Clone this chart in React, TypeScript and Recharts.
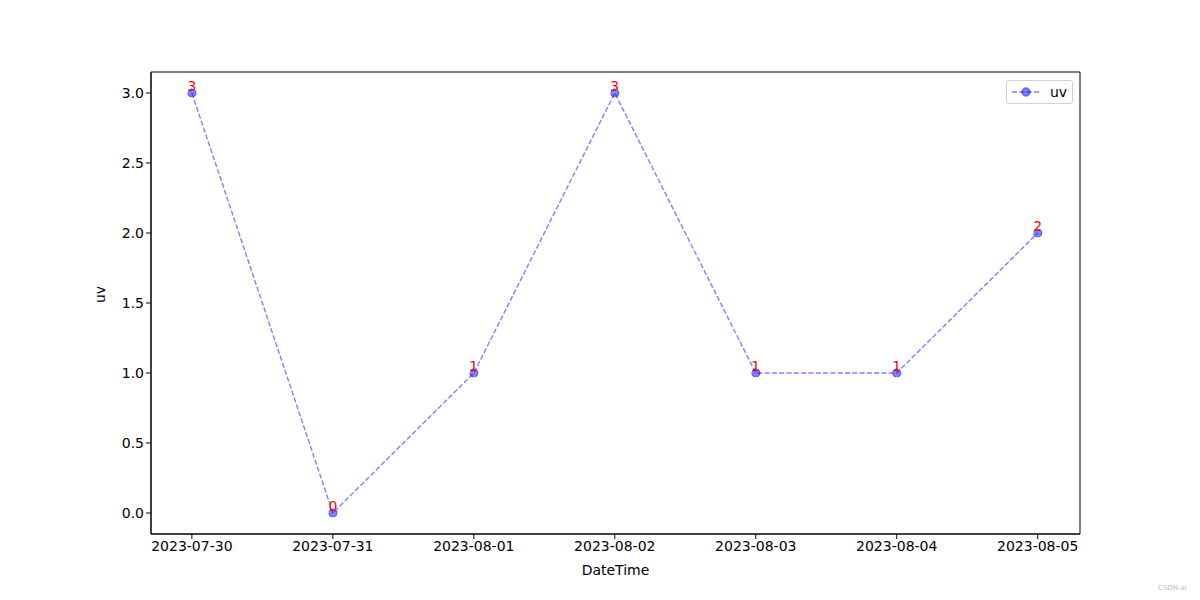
import React from 'react';
import { LineChart, Line, XAxis, YAxis, Label, ReferenceArea } from 'recharts';

const dates = ['2023-07-30', '2023-07-31', '2023-08-01', '2023-08-02', '2023-08-03', '2023-08-04', '2023-08-05'];
const uvValues = [3, 0, 1, 3, 1, 1, 2];
const yTicks = [0, 0.5, 1, 1.5, 2, 2.5, 3];
const xTicks = [0, 1, 2, 3, 4, 5, 6];

const data = dates.map((d, i) => ({ idx: i, date: d, uv: uvValues[i] }));

const FONT = 'DejaVu Sans, sans-serif';
const LINE_COLOR = 'rgba(0,0,255,0.5)';
const X_DOMAIN: [number, number] = [-0.29, 6.3];
const Y_DOMAIN: [number, number] = [-0.15, 3.15];

const PointLabel = (props: any) => {
  const { x, y, value } = props;
  return (
    <text x={x} y={y - 2.5} textAnchor="middle" fill="red" fontSize={14} fontFamily={FONT}>
      {value}
    </text>
  );
};

const LegendBox = () => (
  <div
    style={{
      position: 'absolute',
      left: 1006,
      top: 80,
      border: '1px solid #d0d0d0',
      borderRadius: 3,
      background: 'white',
      width: 67,
      height: 24,
      boxSizing: 'border-box',
      display: 'flex',
      alignItems: 'center',
      fontFamily: FONT,
      fontSize: 14,
    }}
  >
    <svg width={40} height={20}>
      <line x1={5} y1={10} x2={33} y2={10} stroke={LINE_COLOR} strokeWidth={1.39} strokeDasharray="5.1 2.2" />
      <circle cx={19} cy={10} r={4.2} fill={LINE_COLOR} stroke={LINE_COLOR} />
    </svg>
    <span style={{ marginLeft: 3 }}>uv</span>
  </div>
);

export default function App() {
  return (
    <div style={{ position: 'absolute', left: 0, top: 0, width: 1200, height: 600, background: 'white' }}>
      <LineChart
        width={1200}
        height={600}
        data={data}
        margin={{ top: 72, right: 120, bottom: 0, left: 0 }}
      >
        <XAxis
          dataKey="idx"
          type="number"
          domain={X_DOMAIN}
          ticks={xTicks}
          tickFormatter={(v: number) => dates[v]}
          interval={0}
          height={66}
          axisLine={{ stroke: '#000' }}
          tickLine={{ stroke: '#000' }}
          tickSize={5}
          tick={{ fill: '#000', fontSize: 14, fontFamily: FONT }}
          allowDataOverflow
        >
          <Label value="DateTime" position="insideBottom" offset={25} fill="#000" fontSize={14} fontFamily={FONT} />
        </XAxis>
        <YAxis
          type="number"
          domain={Y_DOMAIN}
          ticks={yTicks}
          tickFormatter={(v: number) => v.toFixed(1)}
          width={151}
          axisLine={{ stroke: '#000' }}
          tickLine={{ stroke: '#000' }}
          tickSize={5}
          tick={{ fill: '#000', fontSize: 14, fontFamily: FONT }}
          allowDataOverflow
        >
          <Label value="uv" angle={-90} position="insideLeft" offset={100} fill="#000" fontSize={14} fontFamily={FONT} />
        </YAxis>
        <ReferenceArea
          x1={X_DOMAIN[0]}
          x2={X_DOMAIN[1]}
          y1={Y_DOMAIN[0]}
          y2={Y_DOMAIN[1]}
          fill="none"
          stroke="#000"
          strokeWidth={1}
          ifOverflow="visible"
        />
        <Line
          dataKey="uv"
          stroke={LINE_COLOR}
          strokeWidth={1.39}
          strokeDasharray="5.1 2.2"
          dot={{ r: 4.2, fill: LINE_COLOR, stroke: LINE_COLOR, strokeWidth: 1 }}
          activeDot={false}
          isAnimationActive={false}
          label={<PointLabel />}
        />
      </LineChart>
      <LegendBox />
      <div
        style={{
          position: 'absolute',
          left: 1158,
          top: 584,
          fontSize: 7,
          color: '#bbb',
          fontFamily: FONT,
        }}
      >
        CSDN-ai
      </div>
    </div>
  );
}
